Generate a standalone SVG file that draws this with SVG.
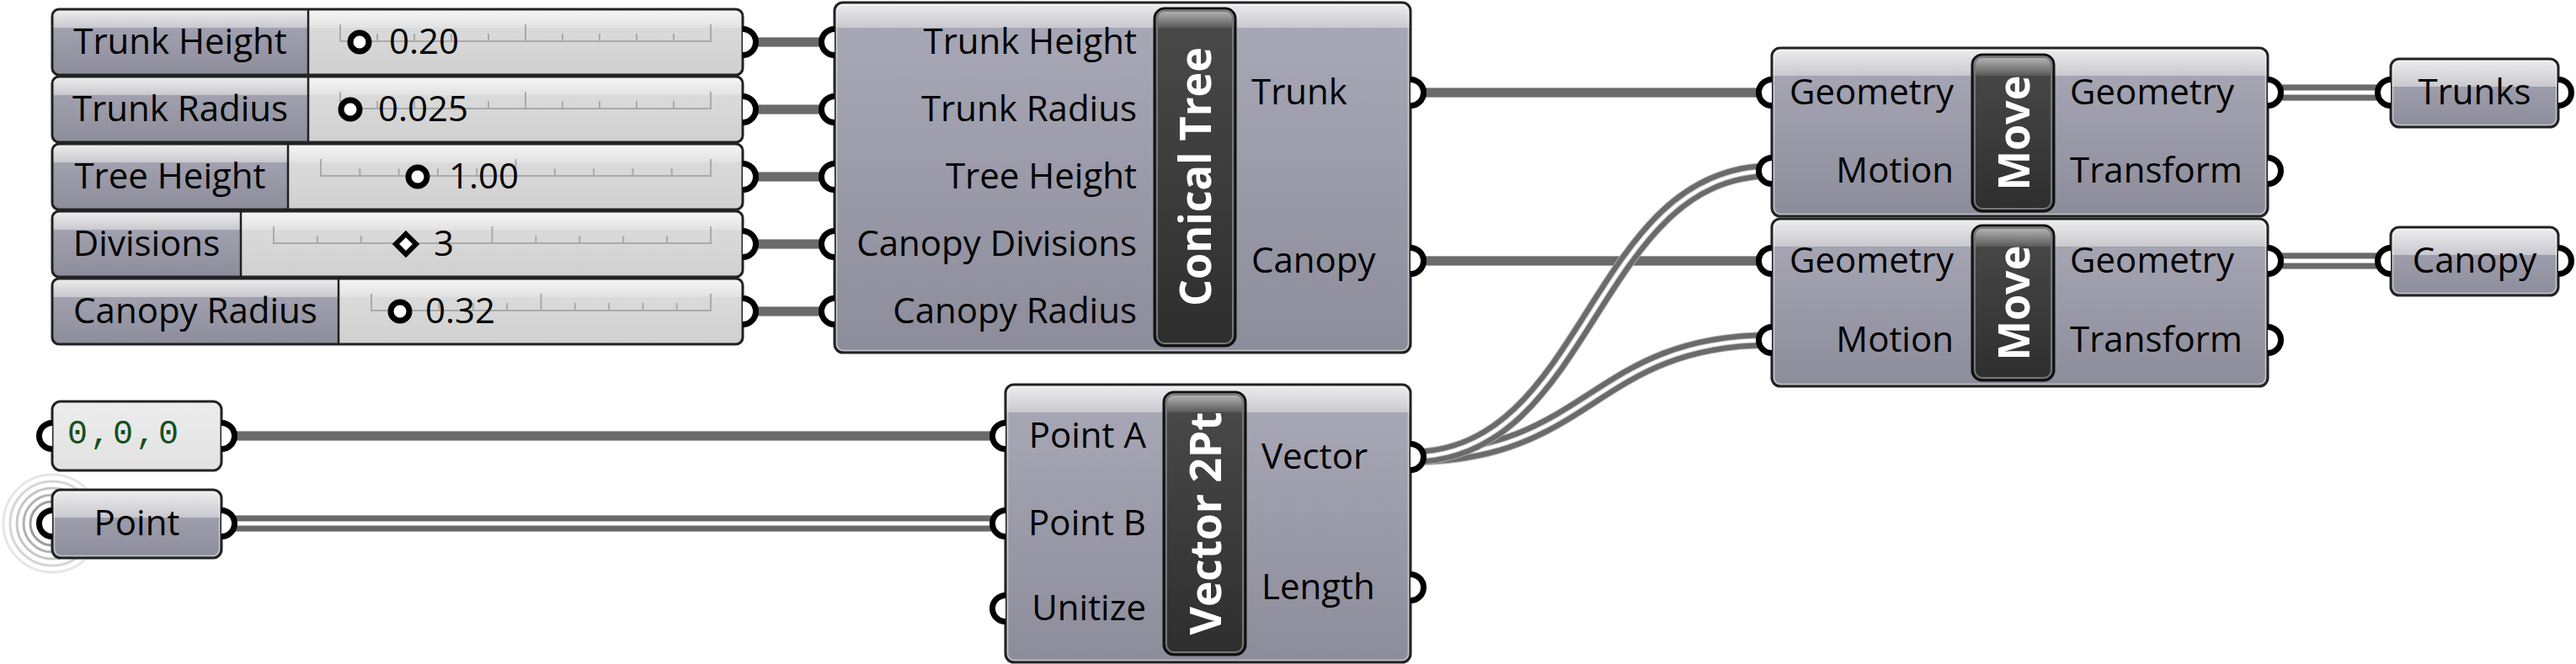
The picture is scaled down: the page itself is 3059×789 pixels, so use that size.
<svg xmlns="http://www.w3.org/2000/svg" width="3059" height="789" viewBox="0 0 3059 789">
<defs>
<style>
.lbl{font-family:"Open Sans","Noto Sans","Liberation Sans",sans-serif;font-size:42px;fill:#000}
.ttl{font-family:"Open Sans","Noto Sans","Liberation Sans",sans-serif;font-size:52px;font-weight:bold;fill:#fff}
.mono{font-family:"Liberation Mono","DejaVu Sans Mono",monospace;font-size:40px;fill:#14501e;letter-spacing:3px}
.port{fill:#fff;stroke:#000;stroke-width:7}
.edge{fill:none;stroke:#222;stroke-width:3}
.rim{fill:none;stroke:#fff;stroke-opacity:0.5;stroke-width:1.5}
.div{stroke:#222;stroke-width:2.5}
.tick{fill:none;stroke:#aaaaaa;stroke-width:2}
.knob{fill:#fff;stroke:#000;stroke-width:7}
.w1a{fill:none;stroke:#a6a6a6;stroke-width:12}
.w1b{fill:none;stroke:#6a6a6a;stroke-width:10}
.w2a{fill:none;stroke:#a6a6a6;stroke-width:20}
.w2b{fill:none;stroke:#6a6a6a;stroke-width:18}
.w2c{fill:none;stroke:#b8b8b8;stroke-width:6}
.w2d{fill:none;stroke:#fff;stroke-width:4}
.barEdge{fill:none;stroke:#111;stroke-width:3}
.barRim{fill:none;stroke:#777;stroke-width:2}
.ripple{fill:none;stroke-width:3}
</style>
<linearGradient id="gBody" x1="0" y1="0" x2="0" y2="1"><stop offset="0" stop-color="#a9a9b7"/><stop offset="1" stop-color="#8c8c9a"/></linearGradient>
<linearGradient id="gHead" x1="0" y1="0" x2="0" y2="1"><stop offset="0" stop-color="#efeff1"/><stop offset="1" stop-color="#c8c8ce"/></linearGradient>
<linearGradient id="gVal" x1="0" y1="0" x2="0" y2="1"><stop offset="0" stop-color="#dedede"/><stop offset="1" stop-color="#d0d0d0"/></linearGradient>
<linearGradient id="gValHead" x1="0" y1="0" x2="0" y2="1"><stop offset="0" stop-color="#f6f6f6"/><stop offset="1" stop-color="#e2e2e2"/></linearGradient>
<linearGradient id="gBar" x1="0" y1="0" x2="0" y2="1"><stop offset="0" stop-color="#4a4a4a"/><stop offset="1" stop-color="#2e2e2e"/></linearGradient>
<linearGradient id="gBarHead" x1="0" y1="0" x2="0" y2="1"><stop offset="0" stop-color="#c2c2c2"/><stop offset="1" stop-color="#5a5a5a"/></linearGradient>
<linearGradient id="gPanel" x1="0" y1="0" x2="0" y2="1"><stop offset="0" stop-color="#ececec"/><stop offset="1" stop-color="#e2e2e2"/></linearGradient>
<clipPath id="cS1"><rect x="62" y="11" width="820" height="78" rx="8"/></clipPath>
<clipPath id="cS2"><rect x="62" y="91" width="820" height="78" rx="8"/></clipPath>
<clipPath id="cS3"><rect x="62" y="171" width="820" height="78" rx="8"/></clipPath>
<clipPath id="cS4"><rect x="62" y="251" width="820" height="78" rx="8"/></clipPath>
<clipPath id="cS5"><rect x="62" y="331" width="820" height="78" rx="8"/></clipPath>
<clipPath id="cCT"><rect x="991" y="3" width="684" height="416" rx="10"/></clipPath>
<clipPath id="cCTb"><rect x="1371" y="10" width="96" height="401" rx="12"/></clipPath>
<clipPath id="cV"><rect x="1194" y="457" width="481" height="330" rx="10"/></clipPath>
<clipPath id="cVb"><rect x="1382" y="466" width="97" height="312" rx="12"/></clipPath>
<clipPath id="cM1"><rect x="2104" y="57" width="589" height="200" rx="10"/></clipPath>
<clipPath id="cM1b"><rect x="2342" y="65" width="97" height="186" rx="12"/></clipPath>
<clipPath id="cM2"><rect x="2104" y="260" width="589" height="199" rx="10"/></clipPath>
<clipPath id="cM2b"><rect x="2342" y="268" width="97" height="184" rx="12"/></clipPath>
<clipPath id="cPt"><rect x="62" y="582" width="201" height="81" rx="10"/></clipPath>
<clipPath id="cTr"><rect x="2839" y="70" width="199" height="81" rx="10"/></clipPath>
<clipPath id="cCa"><rect x="2839" y="270" width="199" height="81" rx="10"/></clipPath>
</defs>
<rect width="3059" height="789" fill="#fff"/>

<g id="connectors">
  <g>
    <path class="w1a" d="M882 50H991 M882 130H991 M882 210H991 M882 290H991 M882 370H991"/>
    <path class="w1b" d="M882 50H991 M882 130H991 M882 210H991 M882 290H991 M882 370H991"/>
  </g>
  <g>
    <path class="w1a" d="M1675 110H2104 M1675 310H2104 M263 518H1194"/>
    <path class="w1b" d="M1675 110H2104 M1675 310H2104 M263 518H1194"/>
  </g>
  <g>
    <path class="w2a" d="M263 622H1194 M2693 110H2839 M2693 310H2839"/>
    <path class="w2b" d="M263 622H1194 M2693 110H2839 M2693 310H2839"/>
    <path class="w2c" d="M263 622H1194 M2693 110H2839 M2693 310H2839"/>
    <path class="w2d" d="M263 622H1194 M2693 110H2839 M2693 310H2839"/>
  </g>
  <g>
    <path class="w2a" d="M1675 543C1890 543 1890 404 2104 404"/>
    <path class="w2b" d="M1675 543C1890 543 1890 404 2104 404"/>
    <path class="w2c" d="M1675 543C1890 543 1890 404 2104 404"/>
    <path class="w2d" d="M1675 543C1890 543 1890 404 2104 404"/>
  </g>
  <g>
    <path class="w2a" d="M1675 543C1890 543 1890 203 2104 203"/>
    <path class="w2b" d="M1675 543C1890 543 1890 203 2104 203"/>
    <path class="w2c" d="M1675 543C1890 543 1890 203 2104 203"/>
    <path class="w2d" d="M1675 543C1890 543 1890 203 2104 203"/>
  </g>
</g>

<g id="slider-trunk-height">
  <g clip-path="url(#cS1)">
    <rect x="62" y="11" width="820" height="78" fill="url(#gVal)"/>
    <rect x="62" y="11" width="820" height="22" fill="url(#gValHead)"/>
    <rect x="62" y="11" width="304" height="78" fill="url(#gBody)"/>
    <rect x="62" y="11" width="304" height="22" fill="url(#gHead)"/>
  </g>
  <rect class="edge" x="62" y="11" width="820" height="78" rx="8"/>
  <line class="div" x1="366" y1="11" x2="366" y2="89"/>
  <text class="lbl" x="214" y="64" text-anchor="middle">Trunk Height</text>
  <path class="tick" d="M404 49H844 M404 29V50 M448 40V50 M492 40V50 M536 40V50 M580 40V50 M624 29V50 M668 40V50 M712 40V50 M756 40V50 M800 40V50 M844 29V50"/>
  <circle class="knob" cx="427" cy="50" r="11"/>
  <text class="lbl" x="462" y="64">0.20</text>
  <path class="port" d="M882 34.5A15.5 15.5 0 0 1 882 65.5"/>
</g>

<g id="slider-trunk-radius">
  <g clip-path="url(#cS2)">
    <rect x="62" y="91" width="820" height="78" fill="url(#gVal)"/>
    <rect x="62" y="91" width="820" height="22" fill="url(#gValHead)"/>
    <rect x="62" y="91" width="304" height="78" fill="url(#gBody)"/>
    <rect x="62" y="91" width="304" height="22" fill="url(#gHead)"/>
  </g>
  <rect class="edge" x="62" y="91" width="820" height="78" rx="8"/>
  <line class="div" x1="366" y1="91" x2="366" y2="169"/>
  <text class="lbl" x="214" y="144" text-anchor="middle">Trunk Radius</text>
  <path class="tick" d="M404 129H844 M404 109V130 M448 120V130 M492 120V130 M536 120V130 M580 120V130 M624 109V130 M668 120V130 M712 120V130 M756 120V130 M800 120V130 M844 109V130"/>
  <circle class="knob" cx="416" cy="130" r="11"/>
  <text class="lbl" x="449" y="144">0.025</text>
  <path class="port" d="M882 114.5A15.5 15.5 0 0 1 882 145.5"/>
</g>

<g id="slider-tree-height">
  <g clip-path="url(#cS3)">
    <rect x="62" y="171" width="820" height="78" fill="url(#gVal)"/>
    <rect x="62" y="171" width="820" height="22" fill="url(#gValHead)"/>
    <rect x="62" y="171" width="280" height="78" fill="url(#gBody)"/>
    <rect x="62" y="171" width="280" height="22" fill="url(#gHead)"/>
  </g>
  <rect class="edge" x="62" y="171" width="820" height="78" rx="8"/>
  <line class="div" x1="342" y1="171" x2="342" y2="249"/>
  <text class="lbl" x="202" y="224" text-anchor="middle">Tree Height</text>
  <path class="tick" d="M381 209H844 M381 189V210 M427.3 200V210 M473.6 200V210 M519.9 200V210 M566.2 200V210 M612.5 189V210 M658.8 200V210 M705.1 200V210 M751.4 200V210 M797.7 200V210 M844 189V210"/>
  <circle class="knob" cx="496" cy="210" r="11"/>
  <text class="lbl" x="533" y="224">1.00</text>
  <path class="port" d="M882 194.5A15.5 15.5 0 0 1 882 225.5"/>
</g>

<g id="slider-divisions">
  <g clip-path="url(#cS4)">
    <rect x="62" y="251" width="820" height="78" fill="url(#gVal)"/>
    <rect x="62" y="251" width="820" height="22" fill="url(#gValHead)"/>
    <rect x="62" y="251" width="224" height="78" fill="url(#gBody)"/>
    <rect x="62" y="251" width="224" height="22" fill="url(#gHead)"/>
  </g>
  <rect class="edge" x="62" y="251" width="820" height="78" rx="8"/>
  <line class="div" x1="286" y1="251" x2="286" y2="329"/>
  <text class="lbl" x="174" y="304" text-anchor="middle">Divisions</text>
  <path class="tick" d="M325 289H844 M325 269V290 M376.9 280V290 M428.8 280V290 M480.7 280V290 M532.6 280V290 M584.5 269V290 M636.4 280V290 M688.3 280V290 M740.2 280V290 M792.1 280V290 M844 269V290"/>
  <polygon points="482,278 494,290 482,302 470,290" fill="#fff" stroke="#000" stroke-width="6"/>
  <text class="lbl" x="515" y="304">3</text>
  <path class="port" d="M882 274.5A15.5 15.5 0 0 1 882 305.5"/>
</g>

<g id="slider-canopy-radius">
  <g clip-path="url(#cS5)">
    <rect x="62" y="331" width="820" height="78" fill="url(#gVal)"/>
    <rect x="62" y="331" width="820" height="22" fill="url(#gValHead)"/>
    <rect x="62" y="331" width="340" height="78" fill="url(#gBody)"/>
    <rect x="62" y="331" width="340" height="22" fill="url(#gHead)"/>
  </g>
  <rect class="edge" x="62" y="331" width="820" height="78" rx="8"/>
  <line class="div" x1="402" y1="331" x2="402" y2="409"/>
  <text class="lbl" x="232" y="384" text-anchor="middle">Canopy Radius</text>
  <path class="tick" d="M441 369H844 M441 349V370 M481.3 360V370 M521.6 360V370 M561.9 360V370 M602.2 360V370 M642.5 349V370 M682.8 360V370 M723.1 360V370 M763.4 360V370 M803.7 360V370 M844 349V370"/>
  <circle class="knob" cx="475" cy="370" r="11"/>
  <text class="lbl" x="505" y="384">0.32</text>
  <path class="port" d="M882 354.5A15.5 15.5 0 0 1 882 385.5"/>
</g>

<g id="conical-tree">
  <g clip-path="url(#cCT)">
    <rect x="991" y="3" width="684" height="416" fill="url(#gBody)"/>
    <rect x="991" y="3" width="684" height="30" fill="url(#gHead)"/>
  </g>
  <rect class="rim" x="993.5" y="5.5" width="679" height="411" rx="8"/>
  <rect class="edge" x="991" y="3" width="684" height="416" rx="10"/>
  <g clip-path="url(#cCTb)">
    <rect x="1371" y="10" width="96" height="401" fill="url(#gBar)"/>
    <rect x="1371" y="10" width="96" height="23" fill="url(#gBarHead)"/>
  </g>
  <rect class="barRim" x="1374" y="13" width="90" height="395" rx="9"/>
  <rect class="barEdge" x="1371" y="10" width="96" height="401" rx="12"/>
  <text class="ttl" transform="translate(1419 210) rotate(-90)" y="19" text-anchor="middle" textLength="308" lengthAdjust="spacingAndGlyphs">Conical Tree</text>
  <text class="lbl" x="1350" y="64" text-anchor="end">Trunk Height</text>
  <text class="lbl" x="1350" y="144" text-anchor="end">Trunk Radius</text>
  <text class="lbl" x="1350" y="224" text-anchor="end">Tree Height</text>
  <text class="lbl" x="1350" y="304" text-anchor="end">Canopy Divisions</text>
  <text class="lbl" x="1350" y="384" text-anchor="end">Canopy Radius</text>
  <text class="lbl" x="1486" y="124">Trunk</text>
  <text class="lbl" x="1486" y="324">Canopy</text>
  <path class="port" d="M991 34.5A15.5 15.5 0 0 0 991 65.5 M991 114.5A15.5 15.5 0 0 0 991 145.5 M991 194.5A15.5 15.5 0 0 0 991 225.5 M991 274.5A15.5 15.5 0 0 0 991 305.5 M991 354.5A15.5 15.5 0 0 0 991 385.5"/>
  <path class="port" d="M1675 94.5A15.5 15.5 0 0 1 1675 125.5 M1675 294.5A15.5 15.5 0 0 1 1675 325.5"/>
</g>

<g id="vector-2pt">
  <g clip-path="url(#cV)">
    <rect x="1194" y="457" width="481" height="330" fill="url(#gBody)"/>
    <rect x="1194" y="457" width="481" height="33" fill="url(#gHead)"/>
  </g>
  <rect class="rim" x="1196.5" y="459.5" width="476" height="325" rx="8"/>
  <rect class="edge" x="1194" y="457" width="481" height="330" rx="10"/>
  <g clip-path="url(#cVb)">
    <rect x="1382" y="466" width="97" height="312" fill="url(#gBar)"/>
    <rect x="1382" y="466" width="97" height="24" fill="url(#gBarHead)"/>
  </g>
  <rect class="barRim" x="1385" y="469" width="91" height="306" rx="9"/>
  <rect class="barEdge" x="1382" y="466" width="97" height="312" rx="12"/>
  <text class="ttl" transform="translate(1430.5 622) rotate(-90)" y="19" text-anchor="middle" textLength="265" lengthAdjust="spacingAndGlyphs">Vector 2Pt</text>
  <text class="lbl" x="1361" y="532" text-anchor="end">Point A</text>
  <text class="lbl" x="1361" y="636" text-anchor="end">Point B</text>
  <text class="lbl" x="1361" y="737" text-anchor="end">Unitize</text>
  <text class="lbl" x="1498" y="557">Vector</text>
  <text class="lbl" x="1498" y="712">Length</text>
  <path class="port" d="M1194 502.5A15.5 15.5 0 0 0 1194 533.5 M1194 606.5A15.5 15.5 0 0 0 1194 637.5 M1194 707.5A15.5 15.5 0 0 0 1194 738.5"/>
  <path class="port" d="M1675 527.5A15.5 15.5 0 0 1 1675 558.5 M1675 682.5A15.5 15.5 0 0 1 1675 713.5"/>
</g>

<g id="move-trunks">
  <g clip-path="url(#cM1)">
    <rect x="2104" y="57" width="589" height="200" fill="url(#gBody)"/>
    <rect x="2104" y="57" width="589" height="33" fill="url(#gHead)"/>
  </g>
  <rect class="rim" x="2106.5" y="59.5" width="584" height="195" rx="8"/>
  <rect class="edge" x="2104" y="57" width="589" height="200" rx="10"/>
  <g clip-path="url(#cM1b)">
    <rect x="2342" y="65" width="97" height="186" fill="url(#gBar)"/>
    <rect x="2342" y="65" width="97" height="25" fill="url(#gBarHead)"/>
  </g>
  <rect class="barRim" x="2345" y="68" width="91" height="180" rx="9"/>
  <rect class="barEdge" x="2342" y="65" width="97" height="186" rx="12"/>
  <text class="ttl" transform="translate(2390.5 158) rotate(-90)" y="19" text-anchor="middle" textLength="137" lengthAdjust="spacingAndGlyphs">Move</text>
  <text class="lbl" x="2320" y="124" text-anchor="end">Geometry</text>
  <text class="lbl" x="2320" y="217" text-anchor="end">Motion</text>
  <text class="lbl" x="2458" y="124">Geometry</text>
  <text class="lbl" x="2458" y="217">Transform</text>
  <path class="port" d="M2104 94.5A15.5 15.5 0 0 0 2104 125.5 M2104 187.5A15.5 15.5 0 0 0 2104 218.5"/>
  <path class="port" d="M2693 94.5A15.5 15.5 0 0 1 2693 125.5 M2693 187.5A15.5 15.5 0 0 1 2693 218.5"/>
</g>

<g id="move-canopy">
  <g clip-path="url(#cM2)">
    <rect x="2104" y="260" width="589" height="199" fill="url(#gBody)"/>
    <rect x="2104" y="260" width="589" height="33" fill="url(#gHead)"/>
  </g>
  <rect class="rim" x="2106.5" y="262.5" width="584" height="194" rx="8"/>
  <rect class="edge" x="2104" y="260" width="589" height="199" rx="10"/>
  <g clip-path="url(#cM2b)">
    <rect x="2342" y="268" width="97" height="184" fill="url(#gBar)"/>
    <rect x="2342" y="268" width="97" height="25" fill="url(#gBarHead)"/>
  </g>
  <rect class="barRim" x="2345" y="271" width="91" height="178" rx="9"/>
  <rect class="barEdge" x="2342" y="268" width="97" height="184" rx="12"/>
  <text class="ttl" transform="translate(2390.5 360) rotate(-90)" y="19" text-anchor="middle" textLength="137" lengthAdjust="spacingAndGlyphs">Move</text>
  <text class="lbl" x="2320" y="324" text-anchor="end">Geometry</text>
  <text class="lbl" x="2320" y="418" text-anchor="end">Motion</text>
  <text class="lbl" x="2458" y="324">Geometry</text>
  <text class="lbl" x="2458" y="418">Transform</text>
  <path class="port" d="M2104 294.5A15.5 15.5 0 0 0 2104 325.5 M2104 388.5A15.5 15.5 0 0 0 2104 419.5"/>
  <path class="port" d="M2693 294.5A15.5 15.5 0 0 1 2693 325.5 M2693 388.5A15.5 15.5 0 0 1 2693 419.5"/>
</g>

<g id="point-origin">
  <rect x="62" y="477" width="201" height="82" rx="10" fill="url(#gPanel)"/>
  <rect class="edge" x="62" y="477" width="201" height="82" rx="10"/>
  <text class="mono" x="80" y="527">0,0,0</text>
  <path class="port" d="M62 502.5A15.5 15.5 0 0 0 62 533.5"/>
  <path class="port" d="M263 502.5A15.5 15.5 0 0 1 263 533.5"/>
</g>

<g id="point-param">
  <circle class="ripple" cx="62" cy="622" r="58" stroke="#e6e6e6"/>
  <circle class="ripple" cx="62" cy="622" r="50" stroke="#d6d6d6"/>
  <circle class="ripple" cx="62" cy="622" r="42" stroke="#c6c6c6"/>
  <circle class="ripple" cx="62" cy="622" r="34" stroke="#b2b2b2"/>
  <circle class="ripple" cx="62" cy="622" r="26" stroke="#9e9e9e"/>
  <g clip-path="url(#cPt)">
    <rect x="62" y="582" width="201" height="81" fill="url(#gBody)"/>
    <rect x="62" y="582" width="201" height="33" fill="url(#gHead)"/>
  </g>
  <rect class="rim" x="64.5" y="584.5" width="196" height="76" rx="8"/>
  <rect class="edge" x="62" y="582" width="201" height="81" rx="10"/>
  <text class="lbl" x="162.5" y="636" text-anchor="middle">Point</text>
  <path class="port" d="M62 606.5A15.5 15.5 0 0 0 62 637.5"/>
  <path class="port" d="M263 606.5A15.5 15.5 0 0 1 263 637.5"/>
</g>

<g id="trunks-param">
  <g clip-path="url(#cTr)">
    <rect x="2839" y="70" width="199" height="81" fill="url(#gBody)"/>
    <rect x="2839" y="70" width="199" height="33" fill="url(#gHead)"/>
  </g>
  <rect class="rim" x="2841.5" y="72.5" width="194" height="76" rx="8"/>
  <rect class="edge" x="2839" y="70" width="199" height="81" rx="10"/>
  <text class="lbl" x="2938.5" y="124" text-anchor="middle">Trunks</text>
  <path class="port" d="M2839 94.5A15.5 15.5 0 0 0 2839 125.5"/>
  <path class="port" d="M3038 94.5A15.5 15.5 0 0 1 3038 125.5"/>
</g>

<g id="canopy-param">
  <g clip-path="url(#cCa)">
    <rect x="2839" y="270" width="199" height="81" fill="url(#gBody)"/>
    <rect x="2839" y="270" width="199" height="33" fill="url(#gHead)"/>
  </g>
  <rect class="rim" x="2841.5" y="272.5" width="194" height="76" rx="8"/>
  <rect class="edge" x="2839" y="270" width="199" height="81" rx="10"/>
  <text class="lbl" x="2938.5" y="324" text-anchor="middle">Canopy</text>
  <path class="port" d="M2839 294.5A15.5 15.5 0 0 0 2839 325.5"/>
  <path class="port" d="M3038 294.5A15.5 15.5 0 0 1 3038 325.5"/>
</g>
</svg>
